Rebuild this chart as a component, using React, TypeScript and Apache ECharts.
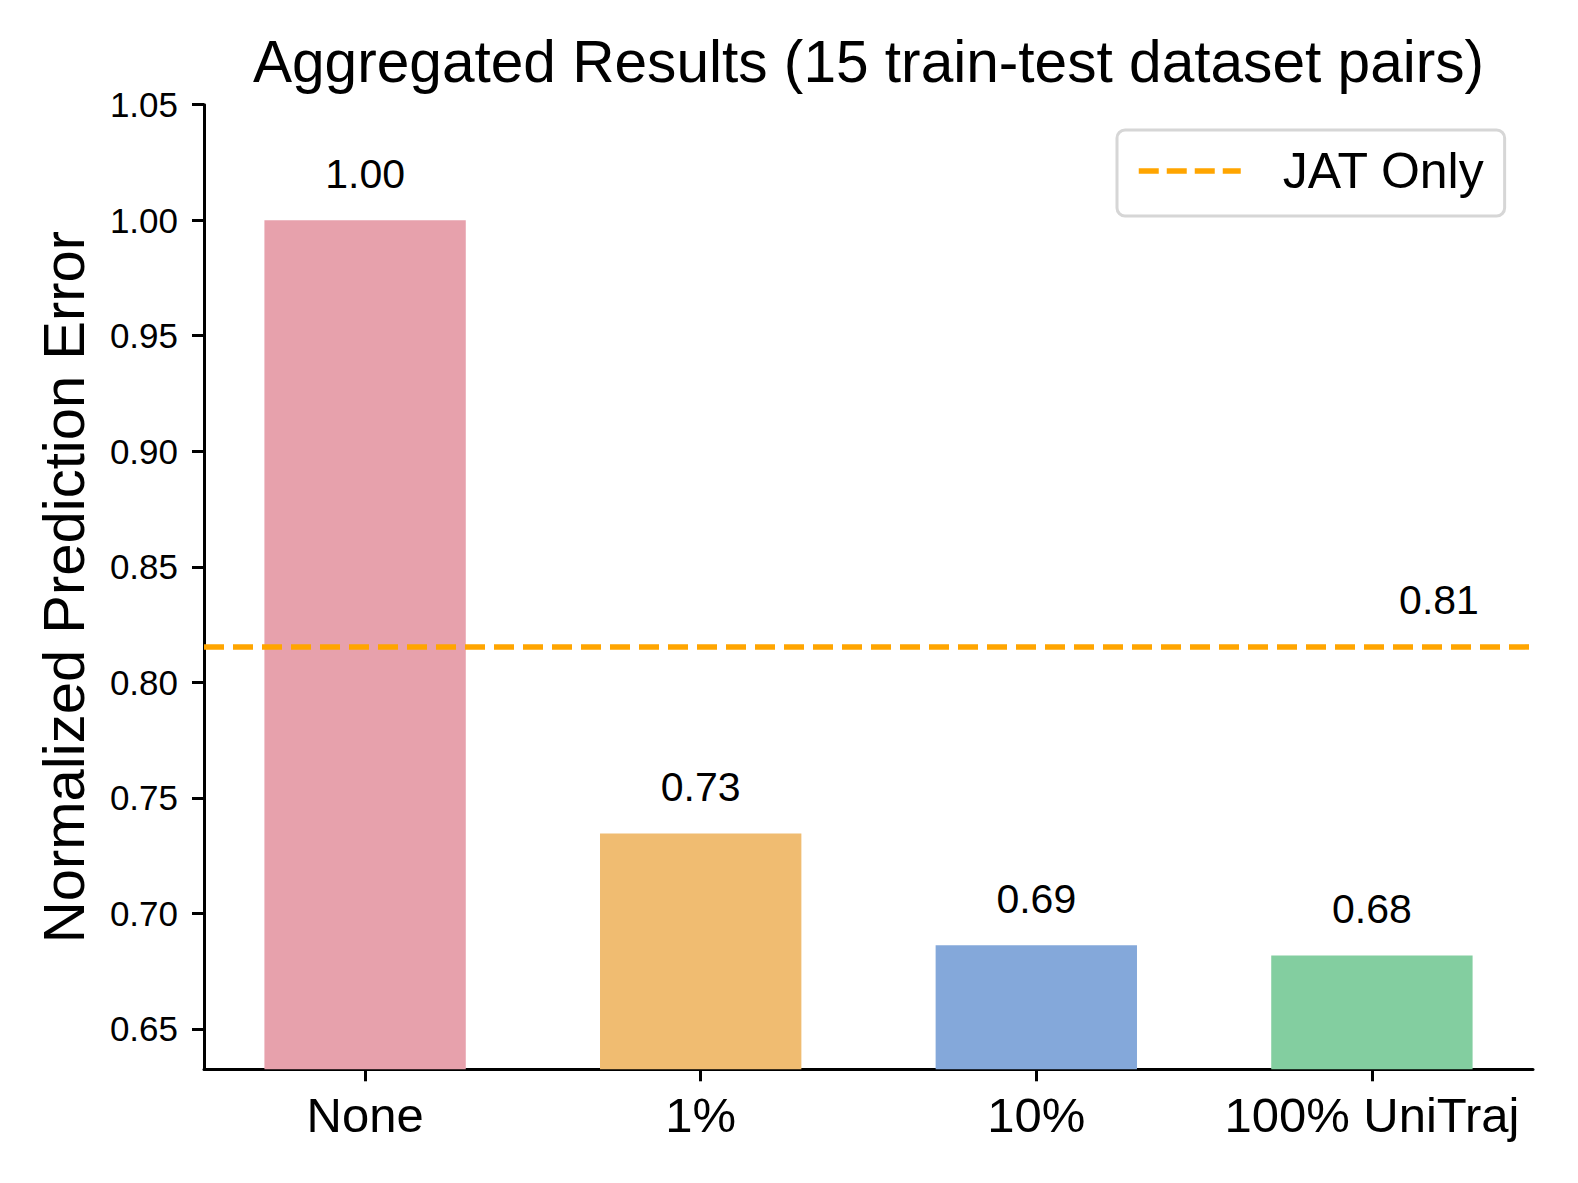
import React, { useEffect, useRef } from "react";
import * as echarts from "echarts";

const categories = ["None", "1%", "10%", "100% UniTraj"];
const values = [1.0, 0.7346, 0.6862, 0.6818];
const valueLabels = ["1.00", "0.73", "0.69", "0.68"];
const barColors = ["#E7A1AC", "#F0BC71", "#84A8DA", "#83CEA0"];
const jatName = "JAT Only";
const jatValue = 0.8153;
const jatLabel = "0.81";
const jatLabelX = 3.2;
const yTicks = [0.65, 0.7, 0.75, 0.8, 0.85, 0.9, 0.95, 1.0, 1.05];
const xTicks = [0, 1, 2, 3];
const xMin = -0.48;
const xMax = 3.48;
const yMin = 0.6325;
const yMax = 1.05;

const FONT = "'Liberation Sans', Arial, Helvetica, sans-serif";

export default function App() {
  const ref = useRef<HTMLDivElement>(null);
  useEffect(() => {
    if (!ref.current) return;
    const chart = echarts.init(ref.current, null, { renderer: "svg" });
    const gridLeft = 204;
    const gridRight = 45;
    const plotW = 1578 - gridLeft - gridRight;
    const barW = (plotW / (xMax - xMin)) * 0.6;
    chart.setOption({
      animation: false,
      backgroundColor: "#ffffff",
      textStyle: { fontFamily: FONT },
      title: {
        text: "Aggregated Results (15 train-test dataset pairs)",
        left: gridLeft + plotW / 2,
        textAlign: "center",
        top: 32,
        padding: 0,
        textStyle: { fontFamily: FONT, fontSize: 58.6, fontWeight: "normal", color: "#000" },
      },
      legend: {
        data: [jatName],
        left: 1117,
        top: 130,
        orient: "vertical",
        padding: [16, 20, 20, 19],
        borderColor: "#d6d6d6",
        borderWidth: 3,
        borderRadius: 8,
        backgroundColor: "#ffffff",
        itemWidth: 102,
        itemHeight: 14,
        itemStyle: { opacity: 0 },
        lineStyle: { color: "#FFA500", width: 5.5, type: [20, 8] },
        textStyle: { fontFamily: FONT, fontSize: 50, color: "#000", padding: [0, 0, 0, 37] },
      },
      grid: { left: gridLeft, right: gridRight, top: 104.7, bottom: 113.7, containLabel: false },
      xAxis: {
        type: "value",
        min: xMin,
        max: xMax,
        splitLine: { show: false },
        axisLine: { show: true, onZero: false, lineStyle: { color: "#000", width: 3 } },
        axisTick: { show: true, length: 12, lineStyle: { color: "#000", width: 3 }, customValues: xTicks },
        axisLabel: {
          customValues: xTicks,
          margin: 21,
          fontSize: 49,
          color: "#000",
          fontFamily: FONT,
          formatter: (v: number) => categories[Math.round(v)] ?? "",
        },
      },
      yAxis: {
        type: "value",
        min: yMin,
        max: yMax,
        name: "Normalized Prediction Error",
        nameLocation: "middle",
        nameGap: 112,
        nameRotate: 90,
        nameTextStyle: { fontFamily: FONT, fontSize: 58, color: "#000" },
        splitLine: { show: false },
        axisLine: { show: true, onZero: false, lineStyle: { color: "#000", width: 3 } },
        axisTick: { show: true, length: 12, lineStyle: { color: "#000", width: 3 }, customValues: yTicks },
        axisLabel: {
          customValues: yTicks,
          margin: 26,
          fontSize: 35,
          color: "#000",
          fontFamily: FONT,
          formatter: (v: number) => v.toFixed(2),
        },
      },
      series: [
        {
          type: "bar",
          name: "bars",
          barWidth: barW,
          clip: true,
          data: values.map((v, i) => ({
            value: [xTicks[i], v],
            itemStyle: { color: barColors[i] },
            label: { formatter: valueLabels[i] },
          })),
          label: {
            show: true,
            position: "top",
            distance: 26,
            fontSize: 41,
            color: "#000",
            fontFamily: FONT,
          },
          z: 2,
        },
        {
          type: "line",
          name: jatName,
          symbol: "none",
          data: [
            [xMin, jatValue],
            [xMax, jatValue],
          ],
          lineStyle: { color: "#FFA500", width: 5.5, type: [20, 9] },
          itemStyle: { color: "#FFA500" },
          z: 3,
          markPoint: {
            symbol: "circle",
            symbolSize: 0,
            label: {
              show: true,
              position: "top",
              distance: 26,
              fontSize: 41,
              color: "#000",
              fontFamily: FONT,
              formatter: jatLabel,
            },
            data: [{ coord: [jatLabelX, jatValue] }],
          },
        },
      ],
    });
    return () => chart.dispose();
  }, []);
  return (
    <div
      ref={ref}
      style={{ position: "absolute", left: 0, top: 0, width: 1578, height: 1183 }}
    />
  );
}
